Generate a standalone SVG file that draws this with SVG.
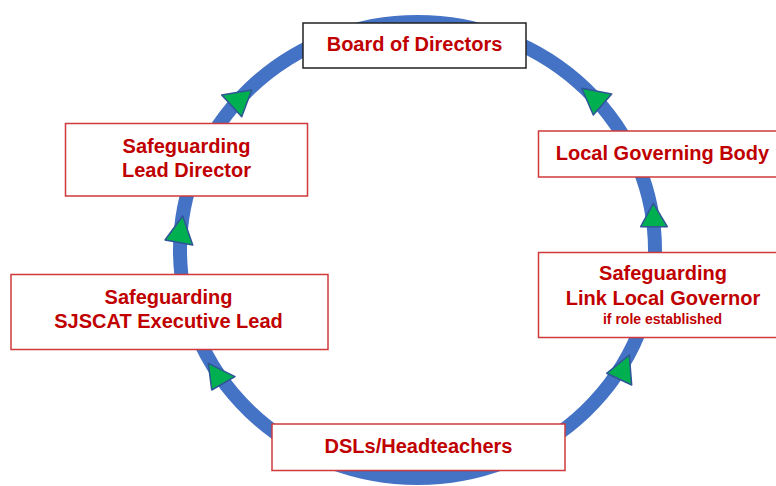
<svg xmlns="http://www.w3.org/2000/svg" width="776" height="486" viewBox="0 0 776 486">
<style>
.ring{fill:none;stroke:#4472C4;stroke-width:14}
.arw{fill:#00B050;stroke:#2F5597;stroke-width:1.5;stroke-linejoin:round}
.box{fill:#fff;stroke:#D03A3A;stroke-width:1.5}
.boxk{fill:#fff;stroke:#222;stroke-width:1.5}
.t{font-family:"Liberation Sans",Arial,sans-serif;font-weight:bold;font-size:20px;fill:#C00000;text-anchor:middle}
.s{font-size:14px}
</style>
<rect width="776" height="486" fill="#fff"/>
<g id="connectors">
<ellipse class="ring" cx="417.5" cy="250" rx="237.5" ry="228"/>
<polygon class="arw" points="221.7,95 251.7,90 241.7,116.7"/>
<polygon class="arw" points="581.7,88.3 611.7,94 593.3,115"/>
<polygon class="arw" points="653.3,203.3 640.7,226.7 667.3,226.7"/>
<polygon class="arw" points="629.3,355 606.7,373.3 631.7,385"/>
<polygon class="arw" points="182.7,216 165,240 192.7,245"/>
<polygon class="arw" points="208.3,363.3 235,376.7 211.7,390"/>
</g>
<g id="board">
<rect class="boxk" x="303" y="23" width="223" height="45"/>
<text class="t" x="414.5" y="51">Board of Directors</text>
</g>
<g id="lgb">
<rect class="box" x="538.5" y="131" width="250" height="46"/>
<text class="t" x="662.5" y="159.5">Local Governing Body</text>
</g>
<g id="link">
<rect class="box" x="538.5" y="252.5" width="250" height="85"/>
<text class="t" x="663" y="279.5">Safeguarding</text>
<text class="t" x="663" y="305">Link Local Governor</text>
<text class="t s" x="662.5" y="323.5">if role established</text>
</g>
<g id="leaddirector">
<rect class="box" x="65.5" y="123.5" width="242" height="72.5"/>
<text class="t" x="186.5" y="152.5">Safeguarding</text>
<text class="t" x="186.5" y="176.5">Lead Director</text>
</g>
<g id="sjscat">
<rect class="box" x="11" y="274.5" width="317" height="75"/>
<text class="t" x="168.5" y="304">Safeguarding</text>
<text class="t" x="168.5" y="328">SJSCAT Executive Lead</text>
</g>
<g id="dsls">
<rect class="box" x="272" y="424" width="293" height="46.5"/>
<text class="t" x="418.5" y="453">DSLs/Headteachers</text>
</g>
</svg>
